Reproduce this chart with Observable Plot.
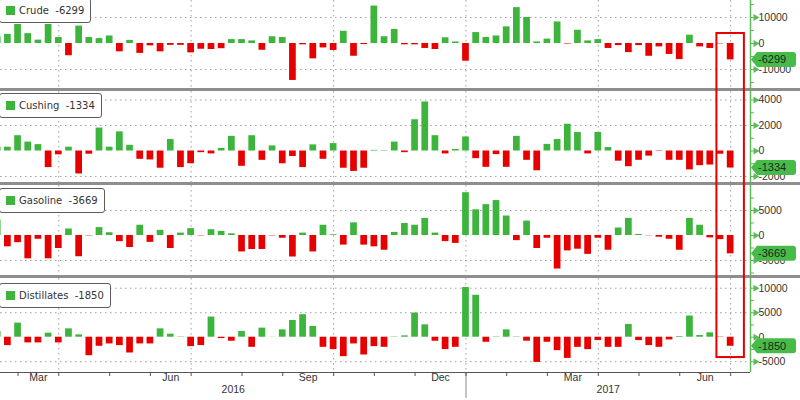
<!DOCTYPE html>
<html><head><meta charset="utf-8">
<script src="https://cdn.jsdelivr.net/npm/d3@7"></script>
<script src="https://cdn.jsdelivr.net/npm/@observablehq/plot@0.6"></script>
<style>
html,body{margin:0;padding:0;background:#fff;}
#chart{position:relative;width:800px;height:400px;overflow:hidden;font-family:"Liberation Sans",Arial,sans-serif;background:#fff;}
.panel{position:absolute;left:0;width:800px;}
.sep{position:absolute;left:0;width:800px;height:3px;background:#8e8e8e;}
.legend{position:absolute;left:-1px;box-sizing:border-box;height:25px;line-height:23px;background:#fff;border:1px solid #5c5c5c;border-radius:3px;padding:0 6px 0 6px;font-family:"DejaVu Sans",sans-serif;font-size:10px;color:#333;white-space:pre;}
.legend .sw{display:inline-block;width:9px;height:9px;background:#3db53d;margin-right:4px;vertical-align:-1px;}
</style></head>
<body><div id="chart"></div>
<script>
// ---- data ----
const weeks = d3.utcFriday.range(new Date(Date.UTC(2016,1,19)), new Date(Date.UTC(2017,6,8)));
const seriesNames = ["Crude","Cushing","Gasoline","Distillates"];
const crude = [2500,3500,7300,3800,1300,7300,2300,-4700,6700,2300,1900,2900,-3200,1200,-3800,-900,-3200,-700,-700,-3600,-2200,-2300,-2000,1500,1500,1000,-2600,2600,2300,-14200,-500,-5900,-1700,-2700,4700,-4900,-400,14400,2600,5400,-500,-500,-1900,-2300,2200,600,-6800,4200,2300,2900,6400,13800,10000,600,1700,8300,-200,5100,1000,1500,-1900,-800,-3500,-800,-4900,-1300,-4200,-6200,3200,-1300,-1900,-150,-6299];
const cushing = [300,300,1200,700,500,-1300,-300,300,-1800,-250,1800,300,1500,450,-650,-700,-1350,900,-1300,-1000,-130,-230,200,1150,-1200,1200,-730,400,-1000,-430,-1300,480,-650,580,-1350,-1600,-1350,50,30,700,-130,2450,3850,1200,-230,120,1100,-600,-1280,-280,-1280,1150,-730,-1550,520,900,2100,1450,-230,1450,270,-800,-1230,-730,-400,-30,-730,-730,-1480,-1150,-1100,-250,-1334];
const gasoline = [3100,-2260,-1440,-4660,-750,-4660,-2600,1300,-4250,-70,1580,550,-1230,-2400,2050,-1370,1030,-2600,480,1370,-70,1160,820,340,-3290,-2800,-2800,-70,-550,-4300,480,-3290,2050,140,-1920,2530,-1920,-2260,-2950,620,2400,2050,3420,480,-1230,-1580,8560,5140,6170,6990,3900,-1030,2880,-2600,-550,-6700,-3080,-2740,-3770,-550,-2950,1500,3420,200,-50,-340,-750,-2950,3420,2050,-480,-820,-3669];
const distillates = [1160,-1710,2880,-1160,-1160,820,-1160,1710,480,-3770,-1850,-1370,-1710,-3220,-1370,-1370,1710,620,70,-1920,-1710,4110,-270,-820,1160,-2060,1850,30,1500,3420,4590,2190,-2060,-2530,-3970,-1370,-3630,-1920,-2060,70,270,4930,2530,-820,-2530,-2060,10140,8560,-1030,70,1500,70,-820,-5140,-1030,-2740,-4320,-2060,-2530,-690,-2060,-2060,2600,-690,-1710,-2060,-550,140,4320,340,890,-70,-1850];
const crudeTicks = [-10000,0,10000], cushingTicks = [-2000,0,2000,4000], gasolineTicks = [-5000,0,5000], distillatesTicks = [-5000,0,5000,10000];

// ---- styling / layout ----
const GREEN="#3db53d", RED="#e60000", AXG="#5bbb5b", TAGG="#47bb47", GRID="#a0a0a0";
const xDomain=[0.275,73.95];
const panels=[
 {values:crude, ticks:crudeTicks, minor:[-15000,-5000,5000,15000], grid:[-10000,10000], top:0, height:88, mb:0, domain:[-17300,16540], legendTop:-2},
 {values:cushing, ticks:cushingTicks, minor:[-1000,1000,3000], grid:[-2000,2000,4000], top:91, height:91, mb:0, domain:[-2470,4667], legendTop:93},
 {values:gasoline, ticks:gasolineTicks, minor:[-7500,-2500,2500,7500], grid:[-5000,5000], top:185, height:90, mb:0, domain:[-8000,10000], legendTop:188},
 {values:distillates, ticks:distillatesTicks, minor:[-2500,2500,7500], grid:[-5000,5000,10000], top:278, height:122, mb:28, domain:[-7200,11980], legendTop:283}
];
const sepTops=[88,182,275];

// month ticks snapped to the weekly bars
const idxOf = d => Math.round((d3.utcFriday.ceil(d) - weeks[0]) / 864e5 / 7);
const months = d3.utcMonth.range(new Date(Date.UTC(2016,1,1)), new Date(Date.UTC(2017,7,1)));
const monthIdx = months.map(m => ({m, i: idxOf(m)}));
const monthTicks = monthIdx.filter(d => d.i >= xDomain[0] && d.i <= xDomain[1]).map(d => d.i);
const quarterTicks = monthIdx.filter(d => d.m.getUTCMonth() % 3 === 0 && d.i >= xDomain[0]).map(d => d.i);
const fmtMonth = d3.utcFormat("%b");
const monthLabels = [];
for (let k = 0; k < monthIdx.length - 1; k++) {
  const m = monthIdx[k].m;
  if (m.getUTCMonth() % 3 === 2) {
    const pos = (monthIdx[k].i + monthIdx[k+1].i) / 2;
    if (pos > xDomain[0] && pos < xDomain[1]) monthLabels.push({pos, label: fmtMonth(m)});
  }
}
const yearTick = idxOf(new Date(Date.UTC(2017,0,1)));
const yearLabels = [{pos:(xDomain[0]+yearTick)/2, label:"2016"},{pos:(yearTick+xDomain[1])/2, label:"2017"}];

const chart = document.getElementById("chart");
const plots = [];
panels.forEach((p, k) => {
  const rows = p.values.map((v,i) => ({i, v}));
  const isLast = k === panels.length - 1;
  const marks = [
    Plot.ruleY(p.grid, {stroke:GRID, strokeDasharray:"1.5,3.5"}),
    Plot.ruleX(quarterTicks, {stroke:GRID, strokeDasharray:"1.5,3.5"}),
    Plot.rect(rows.filter(d => d.v >= 0), {x1:d=>d.i-0.33, x2:d=>d.i+0.33, y1:()=>0, y2:"v", fill:GREEN, clip:true}),
    Plot.rect(rows.filter(d => d.v < 0), {x1:d=>d.i-0.33, x2:d=>d.i+0.33, y1:()=>0, y2:"v", fill:RED, clip:true}),
    Plot.ruleX([xDomain[1]], {stroke:AXG, strokeWidth:1.5}),
    Plot.axisY(p.minor, {anchor:"right", tickSize:3, stroke:AXG, tickFormat:()=>"", label:null}),
    Plot.axisY(p.ticks, {anchor:"right", tickSize:5, stroke:AXG, tickFormat:()=>"", label:null}),
    Plot.dot(p.ticks, {y:d=>d, frameAnchor:"right", dx:5, symbol:"triangle", r:2.6, fill:AXG, stroke:"none", rotate:90}),
    Plot.axisY(p.ticks, {anchor:"right", tickSize:0, tickPadding:8, tickFormat:d=>String(d), fill:"#333", fontSize:10.5, label:null})
  ];
  if (isLast) {
    marks.push(
      Plot.axisX([yearTick], {anchor:"bottom", tickSize:26, stroke:"#c4c4c4", strokeWidth:2, tickFormat:()=>"", label:null}),
      Plot.ruleY([p.domain[0]], {stroke:"#555"}),
      Plot.axisX(monthTicks, {anchor:"bottom", tickSize:4, stroke:"#555", tickFormat:()=>"", label:null}),
      Plot.text(monthLabels, {x:"pos", text:"label", frameAnchor:"bottom", dy:8, fill:"#333", fontSize:10.5}),
      Plot.text(yearLabels, {x:"pos", text:"label", frameAnchor:"bottom", dy:20, fill:"#333", fontSize:10.5})
    );
  }
  const pl = Plot.plot({
    width:800, height:p.height, marginLeft:0, marginRight:50, marginTop:0, marginBottom:p.mb,
    x: isLast ? {type:"linear", domain:xDomain, label:null} : {type:"linear", domain:xDomain, axis:null, label:null},
    y: {domain:p.domain, label:null},
    style:{fontFamily:'"Liberation Sans",Arial,sans-serif', fontSize:"10.5px", color:"#333", background:"transparent"},
    marks
  });
  const wrap = document.createElement("div");
  wrap.className = "panel";
  wrap.style.top = p.top + "px";
  wrap.style.height = p.height + "px";
  wrap.appendChild(pl);
  chart.appendChild(wrap);
  plots.push(pl);
});
sepTops.forEach(t => { const s = document.createElement("div"); s.className = "sep"; s.style.top = t + "px"; chart.appendChild(s); });
panels.forEach((p, k) => {
  const last = p.values[p.values.length - 1];
  const lg = document.createElement("div");
  lg.className = "legend";
  lg.style.top = p.legendTop + "px";
  const sw = document.createElement("span"); sw.className = "sw";
  lg.appendChild(sw);
  lg.appendChild(document.createTextNode(seriesNames[k] + "  " + String(last)));
  chart.appendChild(lg);
});

// overlay: highlight box and last-value tags, positioned via Plot scales
const xs = plots[0].scale("x");
const svg = d3.select(chart).append("svg").attr("width",800).attr("height",400)
  .style("position","absolute").style("left","0px").style("top","0px").style("pointer-events","none");
const lastIdx = weeks.length - 1;
const bx1 = xs.apply(lastIdx - 1.35), bx2 = xs.apply(lastIdx + 1.35);
const by1 = panels[0].top + plots[0].scale("y").apply(3850);
const by2 = panels[3].top + plots[3].scale("y").apply(-4150);
svg.append("rect").attr("x",bx1).attr("y",by1).attr("width",bx2-bx1).attr("height",by2-by1)
  .attr("fill","none").attr("stroke",RED).attr("stroke-width",2);
const x0 = xs.apply(xDomain[1]) + 1;
panels.forEach((p, k) => {
  const last = p.values[p.values.length - 1];
  const y = p.top + plots[k].scale("y").apply(last);
  svg.append("path").attr("d",`M${x0},${y}L${x0+6},${y-7.5}H${x0+42}Q${x0+45},${y-7.5} ${x0+45},${y-4.5}V${y+4.5}Q${x0+45},${y+7.5} ${x0+42},${y+7.5}H${x0+6}Z`)
    .attr("fill",TAGG);
  svg.append("text").attr("x",x0+7).attr("y",y).attr("dy","0.36em").attr("font-size",11)
    .attr("font-family",'"Liberation Sans",Arial,sans-serif').attr("fill","#1f1f1f").text(String(last));
});
</script>
</body></html>
